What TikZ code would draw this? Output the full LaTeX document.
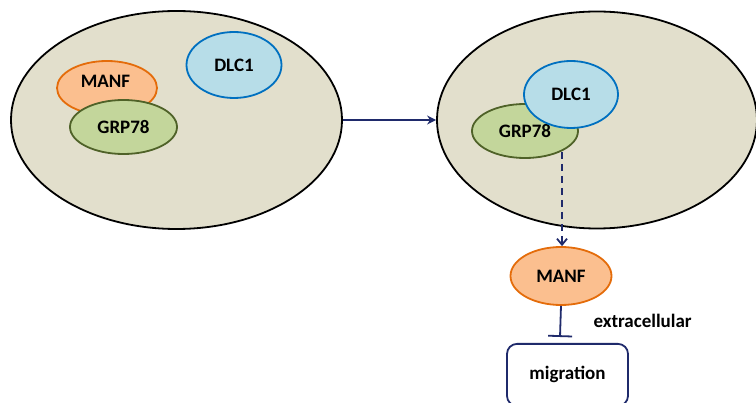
\documentclass[tikz,border=0pt]{standalone}
\usepackage{fontspec}
\setmainfont{Carlito}
\usetikzlibrary{arrows.meta,shapes.geometric}
\definecolor{cellfill}{HTML}{E2DFCC}
\definecolor{manffill}{HTML}{FBBF8F}
\definecolor{manfdraw}{HTML}{E46C0A}
\definecolor{grpfill}{HTML}{C3D69B}
\definecolor{grpdraw}{HTML}{4F6228}
\definecolor{dlcfill}{HTML}{B7DDE8}
\definecolor{dlcdraw}{HTML}{0070C0}
\definecolor{navy}{HTML}{1F2A6B}
\tikzset{
  cell/.style={ellipse, draw=black, line width=1.8pt, fill=cellfill, inner sep=0pt},
  prot/.style={ellipse, line width=1.8pt, inner sep=0pt, font=\bfseries\fontsize{19}{22}\selectfont},
  manf/.style={prot, draw=manfdraw, fill=manffill},
  grp/.style={prot, draw=grpdraw, fill=grpfill},
  dlc/.style={prot, draw=dlcdraw, fill=dlcfill},
  conn/.style={draw=navy, line width=1.8pt},
  lbl/.style={font=\bfseries\fontsize{19}{22}\selectfont}
}
\begin{document}
\begin{tikzpicture}[x=1pt,y=-1pt]
\useasboundingbox (0,0) rectangle (756,403);
\clip (0,0) rectangle (756,403);
% cells
\node[cell, minimum width=331pt, minimum height=218pt] (cellL) at (176.5,120) {};
\node[cell, minimum width=320pt, minimum height=217pt] (cellR) at (597,120) {};
% left cell proteins
\node[dlc, minimum width=95pt, minimum height=66pt] (dlcL) at (234,65) {DLC1};
\node[manf, minimum width=100pt, minimum height=54pt] (manfL) at (107,88) {\raisebox{0pt}[0pt][0pt]{\hspace*{-3pt}MANF}};
\node[grp, minimum width=107pt, minimum height=54pt] (grpL) at (123.5,127) {GRP78};
% right cell proteins
\node[grp, minimum width=106pt, minimum height=54pt] (grpR) at (525,131) {GRP78};
\node[dlc, minimum width=94pt, minimum height=67pt] (dlcR) at (571,94.5) {DLC1};
% outside
\node[manf, minimum width=101pt, minimum height=58pt] (manfO) at (561,276) {MANF};
\node[draw=navy, line width=1.8pt, rounded corners=10pt, minimum width=121pt, minimum height=62pt, anchor=north, lbl] (mig) at (567.5,343) {migration};
\coordinate (bar) at (560,337);
\coordinate (dashtop) at (562,152);
\node[lbl, anchor=west] (extra) at (590,321) {extracellular};
% connectors
\draw[conn, -{Stealth[length=9pt,width=9pt]}] (cellL.east) -- (cellR.west);
\draw[conn, dashed, dash pattern=on 7pt off 5pt, -{Straight Barb[length=6pt,width=10pt]}] (dashtop) -- (manfO.north -| dashtop);
\draw[conn, -{Bar[width=24pt,line width=1.8pt]}] (manfO.south) -- (bar);
\end{tikzpicture}
\end{document}
